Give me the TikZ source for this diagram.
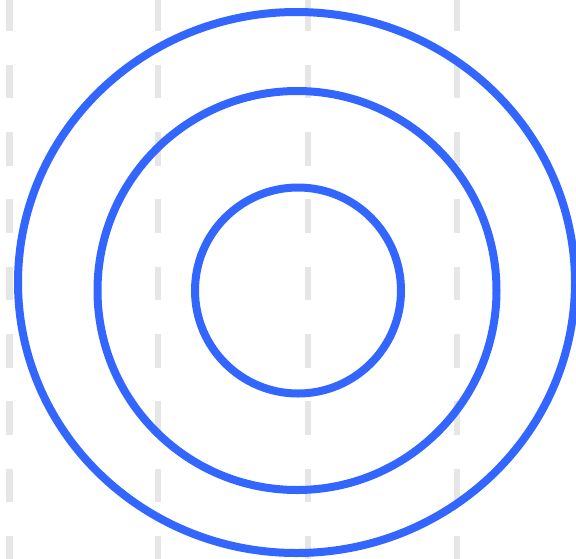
\documentclass[tikz,border=0pt]{standalone}
\begin{document}
\begin{tikzpicture}[x=1pt,y=-1pt,
  guide/.style={draw=guidegray,line width=6.5pt,dash pattern=on 33.5pt off 33.8pt},
  ring/.style={draw=ringblue,line width=8pt}]
\definecolor{guidegray}{HTML}{E6E6E6}
\definecolor{ringblue}{HTML}{3366FF}
\path[use as bounding box] (0,0) rectangle (576,558);
\foreach \gx/\nm in {9.5/g1,158/g2,308/g3,457/g4}{
  \coordinate (\nm top) at (\gx,-2.5);
  \coordinate (\nm bot) at (\gx,570);
  \draw[guide] (\nm top) -- (\nm bot);
}
\coordinate (outerc) at (296.5,282.5);
\coordinate (midc) at (297,290.5);
\coordinate (innerc) at (298,290.5);
\draw[ring] (outerc) ellipse [x radius=278.5, y radius=270.5];
\draw[ring] (midc) circle [radius=199.5];
\draw[ring] (innerc) circle [radius=103];
\end{tikzpicture}
\end{document}
